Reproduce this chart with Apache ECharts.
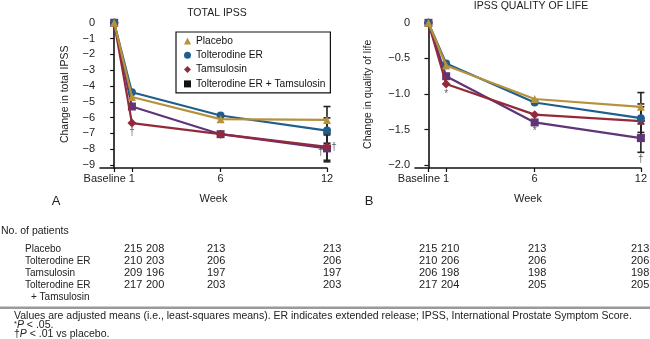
<!DOCTYPE html>
<html><head><meta charset="utf-8">
<script src="https://cdn.jsdelivr.net/npm/echarts@6/dist/echarts.min.js"></script>
<style>html,body{margin:0;padding:0;background:#fff}#c{width:650px;height:339px}</style>
</head><body><div id="c"></div>
<script>
const FONT = '"Liberation Sans",Arial,Helvetica,sans-serif';

// ---- data ----
const weeks = [0, 1, 6, 12];
const seriesNames = ['Placebo', 'Tolterodine ER', 'Tamsulosin', 'Tolterodine ER + Tamsulosin'];
const ipssPlacebo     = [0, -4.7, -6.1, -6.15];
const ipssTolterodine = [0, -4.4, -5.87, -6.82];
const ipssTamsulosin  = [0, -6.35, -7.05, -7.85];
const ipssCombo       = [0, -5.3, -7.05, -7.95];
const qolPlacebo      = [0, -0.60, -1.07, -1.18];
const qolTolterodine  = [0, -0.57, -1.12, -1.34];
const qolTamsulosin   = [0, -0.86, -1.29, -1.38];
const qolCombo        = [0, -0.75, -1.40, -1.62];
const ipssSE12 = [0.85, 0.8, 0.85, 0.85];
const qolSE12  = [0.2, 0.2, 0.2, 0.2];
const weekTicks = [0, 1, 6, 12];
const ipssTicks = [0, -1, -2, -3, -4, -5, -6, -7, -8, -9];
const qolTicks  = [0, -0.5, -1.0, -1.5, -2.0];
const ipssMarks = [[1, -6.92, '\u2020'], [11.65, -8.2, '\u2020'], [12.4, -7.85, '\u2020']];
const qolMarks  = [[1, -1.0, '*'], [6, -1.52, '*'], [12, -1.92, '\u2020']];
const rowLabels = ['Placebo', 'Tolterodine ER', 'Tamsulosin', 'Tolterodine ER'];
const patientsA = [[215, 208, 213, 213], [210, 203, 206, 206], [209, 196, 197, 197], [217, 200, 203, 203]];
const patientsB = [[215, 210, 213, 213], [210, 206, 206, 206], [206, 198, 198, 198], [217, 204, 205, 205]];

const colors = ['#b8913b', '#1f5f8e', '#922a3a', '#5f3479'];
const legendColors = ['#b8913b', '#1f5f8e', '#922a3a', '#111111'];
const symbols = ['triangle', 'circle', 'diamond', 'rect'];
const symbolSizes = [8, 8, 9, 8];

const ipssData = [ipssPlacebo, ipssTolterodine, ipssTamsulosin, ipssCombo];
const qolData = [qolPlacebo, qolTolterodine, qolTamsulosin, qolCombo];

const axisCol = '#111';
const txtCol = '#222';

function xAxisCfg(gi, min) {
  return {
    gridIndex: gi, type: 'value', min: min, max: 12,
    axisLine: { onZero: false, lineStyle: { color: axisCol, width: 1.6 } },
    axisTick: { show: true, customValues: weekTicks, length: 4, lineStyle: { color: axisCol, width: 1.2 } },
    axisLabel: {
      customValues: weekTicks, showMaxLabel: true, showMinLabel: true, margin: 5,
      color: txtCol, fontSize: 11, fontFamily: FONT,
      formatter: v => v === 0 ? '{b|Baseline}' : String(v),
      rich: { b: { padding: [0, 19, 0, 0], fontSize: 11, fontFamily: FONT, color: txtCol } }
    },
    splitLine: { show: false },
    name: 'Week', nameLocation: 'middle', nameGap: 25,
    nameTextStyle: { color: txtCol, fontSize: 11, fontFamily: FONT }
  };
}
function yAxisCfg(gi, min, max, ticks, fmt, name, gap) {
  return {
    gridIndex: gi, type: 'value', min: min, max: max,
    axisLine: { show: true, lineStyle: { color: axisCol, width: 1.6 } },
    axisTick: { show: true, customValues: ticks, length: 4, lineStyle: { color: axisCol, width: 1.2 } },
    axisLabel: { customValues: ticks, margin: 5, color: txtCol, fontSize: 11, fontFamily: FONT, formatter: fmt },
    splitLine: { show: false },
    name: name, nameLocation: 'middle', nameGap: gap,
    nameTextStyle: { color: txtCol, fontSize: 10.5, fontFamily: FONT }
  };
}

function errRender(params, api) {
  const x = api.value(0), lo = api.value(1), hi = api.value(2);
  const p1 = api.coord([x, hi]), p2 = api.coord([x, lo]);
  const w = 3.5;
  const st = { stroke: '#222', lineWidth: 1.6 };
  return { type: 'group', children: [
    { type: 'line', shape: { x1: p1[0], y1: p1[1], x2: p2[0], y2: p2[1] }, style: st },
    { type: 'line', shape: { x1: p1[0] - w, y1: p1[1], x2: p1[0] + w, y2: p1[1] }, style: st },
    { type: 'line', shape: { x1: p2[0] - w, y1: p2[1], x2: p2[0] + w, y2: p2[1] }, style: st }
  ]};
}

const series = [];
[ipssData, qolData].forEach((set, gi) => {
  const se = gi === 0 ? ipssSE12 : qolSE12;
  series.push({
    type: 'custom', xAxisIndex: gi, yAxisIndex: gi, renderItem: errRender, silent: true, z: 1,
    data: set.map((vals, i) => [12, vals[3] - se[i], vals[3] + se[i]])
  });
  [3, 2, 1, 0].forEach(i => {
    series.push({
      name: seriesNames[i], type: 'line', xAxisIndex: gi, yAxisIndex: gi,
      data: weeks.map((w, k) => [w, set[i][k]]),
      symbol: symbols[i], symbolSize: symbolSizes[i], showSymbol: true,
      lineStyle: { color: colors[i], width: 2.2 },
      itemStyle: { color: colors[i] },
      z: 3 + (3 - i), animation: false
    });
  });
  series.push({
    type: 'scatter', xAxisIndex: gi, yAxisIndex: gi, clip: false, silent: true,
    symbolSize: 0, z: 10,
    data: (gi === 0 ? ipssMarks : qolMarks).map(m => ({ value: [m[0], m[1]], txt: m[2] })),
    label: { show: true, position: 'inside', formatter: p => p.data.txt, fontSize: 10, fontFamily: FONT, color: '#333' }
  });
});

// texts
const graphic = [];
function txt(x, y, text, opt) {
  graphic.push({ type: 'text', x: x, y: y,
    style: Object.assign({ text: text, fontSize: 10, fontFamily: FONT, fill: txtCol, align: 'left', verticalAlign: 'middle' }, opt || {}) });
}
txt(217, 13, 'TOTAL IPSS', { align: 'center', fontSize: 10.5 });
txt(531, 6, 'IPSS QUALITY OF LIFE', { align: 'center', fontSize: 10.5 });
txt(56, 201, 'A', { align: 'center', fontSize: 13 });
txt(369, 201, 'B', { align: 'center', fontSize: 13 });
const T = 10, N = 11;
txt(1, 231, 'No. of patients', { fontSize: 10.5 });
const rowY = [249, 261, 273, 285];
const colA = [124, 146, 207, 323], colB = [419, 441, 528, 631];
rowLabels.forEach((r, i) => {
  txt(25, rowY[i], r, { fontSize: T });
  patientsA[i].forEach((v, k) => txt(colA[k], rowY[i], String(v), { fontSize: N }));
  patientsB[i].forEach((v, k) => txt(colB[k], rowY[i], String(v), { fontSize: N }));
});
txt(31, 297, '+ Tamsulosin', { fontSize: T });
graphic.push({ type: 'rect', shape: { x: 0, y: 306.5, width: 650, height: 2.5 }, style: { fill: '#9a9a9a' } });
const F = 10.5;
txt(14, 316, 'Values are adjusted means (i.e., least-squares means). ER indicates extended release; IPSS, International Prostate Symptom Score.', { fontSize: F });
graphic.push({ type: 'text', x: 14, y: 325, style: { text: '{s|*}{i|P}{n| < .05.}', verticalAlign: 'middle', fill: txtCol,
  rich: { s: { fontSize: 7.5, fontFamily: FONT, fill: txtCol, verticalAlign: 'top' }, i: { fontSize: F, fontFamily: FONT, fontStyle: 'italic', fill: txtCol }, n: { fontSize: F, fontFamily: FONT, fill: txtCol } } } });
graphic.push({ type: 'text', x: 14, y: 334, style: { text: '{n|\u2020}{i|P}{n| < .01 vs placebo.}', verticalAlign: 'middle', fill: txtCol,
  rich: { i: { fontSize: F, fontFamily: FONT, fontStyle: 'italic', fill: txtCol }, n: { fontSize: F, fontFamily: FONT, fill: txtCol } } } });

const option = {
  animation: false,
  backgroundColor: '#fff',
  grid: [
    { left: 100, top: 20.7, width: 227, height: 147.3 },
    { left: 415, top: 20.7, width: 226, height: 147.3 }
  ],
  xAxis: [xAxisCfg(0, -0.8), xAxisCfg(1, -0.76)],
  yAxis: [
    yAxisCfg(0, -9.19, 0.13, ipssTicks, v => v === 0 ? '0' : '\u2212' + Math.abs(v), 'Change in total IPSS', 29),
    yAxisCfg(1, -2.04, 0.03, qolTicks, v => v === 0 ? '0' : '\u2212' + Math.abs(v).toFixed(1), 'Change in quality of life', 41)
  ],
  legend: {
    left: 176, top: 32, orient: 'vertical', padding: [3, 5, 3, 8], itemGap: 2.3,
    itemWidth: 7, itemHeight: 7, borderColor: '#111', borderWidth: 1.2, selectedMode: false,
    textStyle: { fontSize: 10.2, fontFamily: FONT, color: '#111', lineHeight: 12 },
    data: seriesNames.map((n, i) => ({ name: n, icon: symbols[i], itemStyle: { color: legendColors[i] } }))
  },
  series: series,
  graphic: graphic
};
const chart = echarts.init(document.getElementById('c'), null, { renderer: 'canvas' });
chart.setOption(option);
</script>
</body></html>
